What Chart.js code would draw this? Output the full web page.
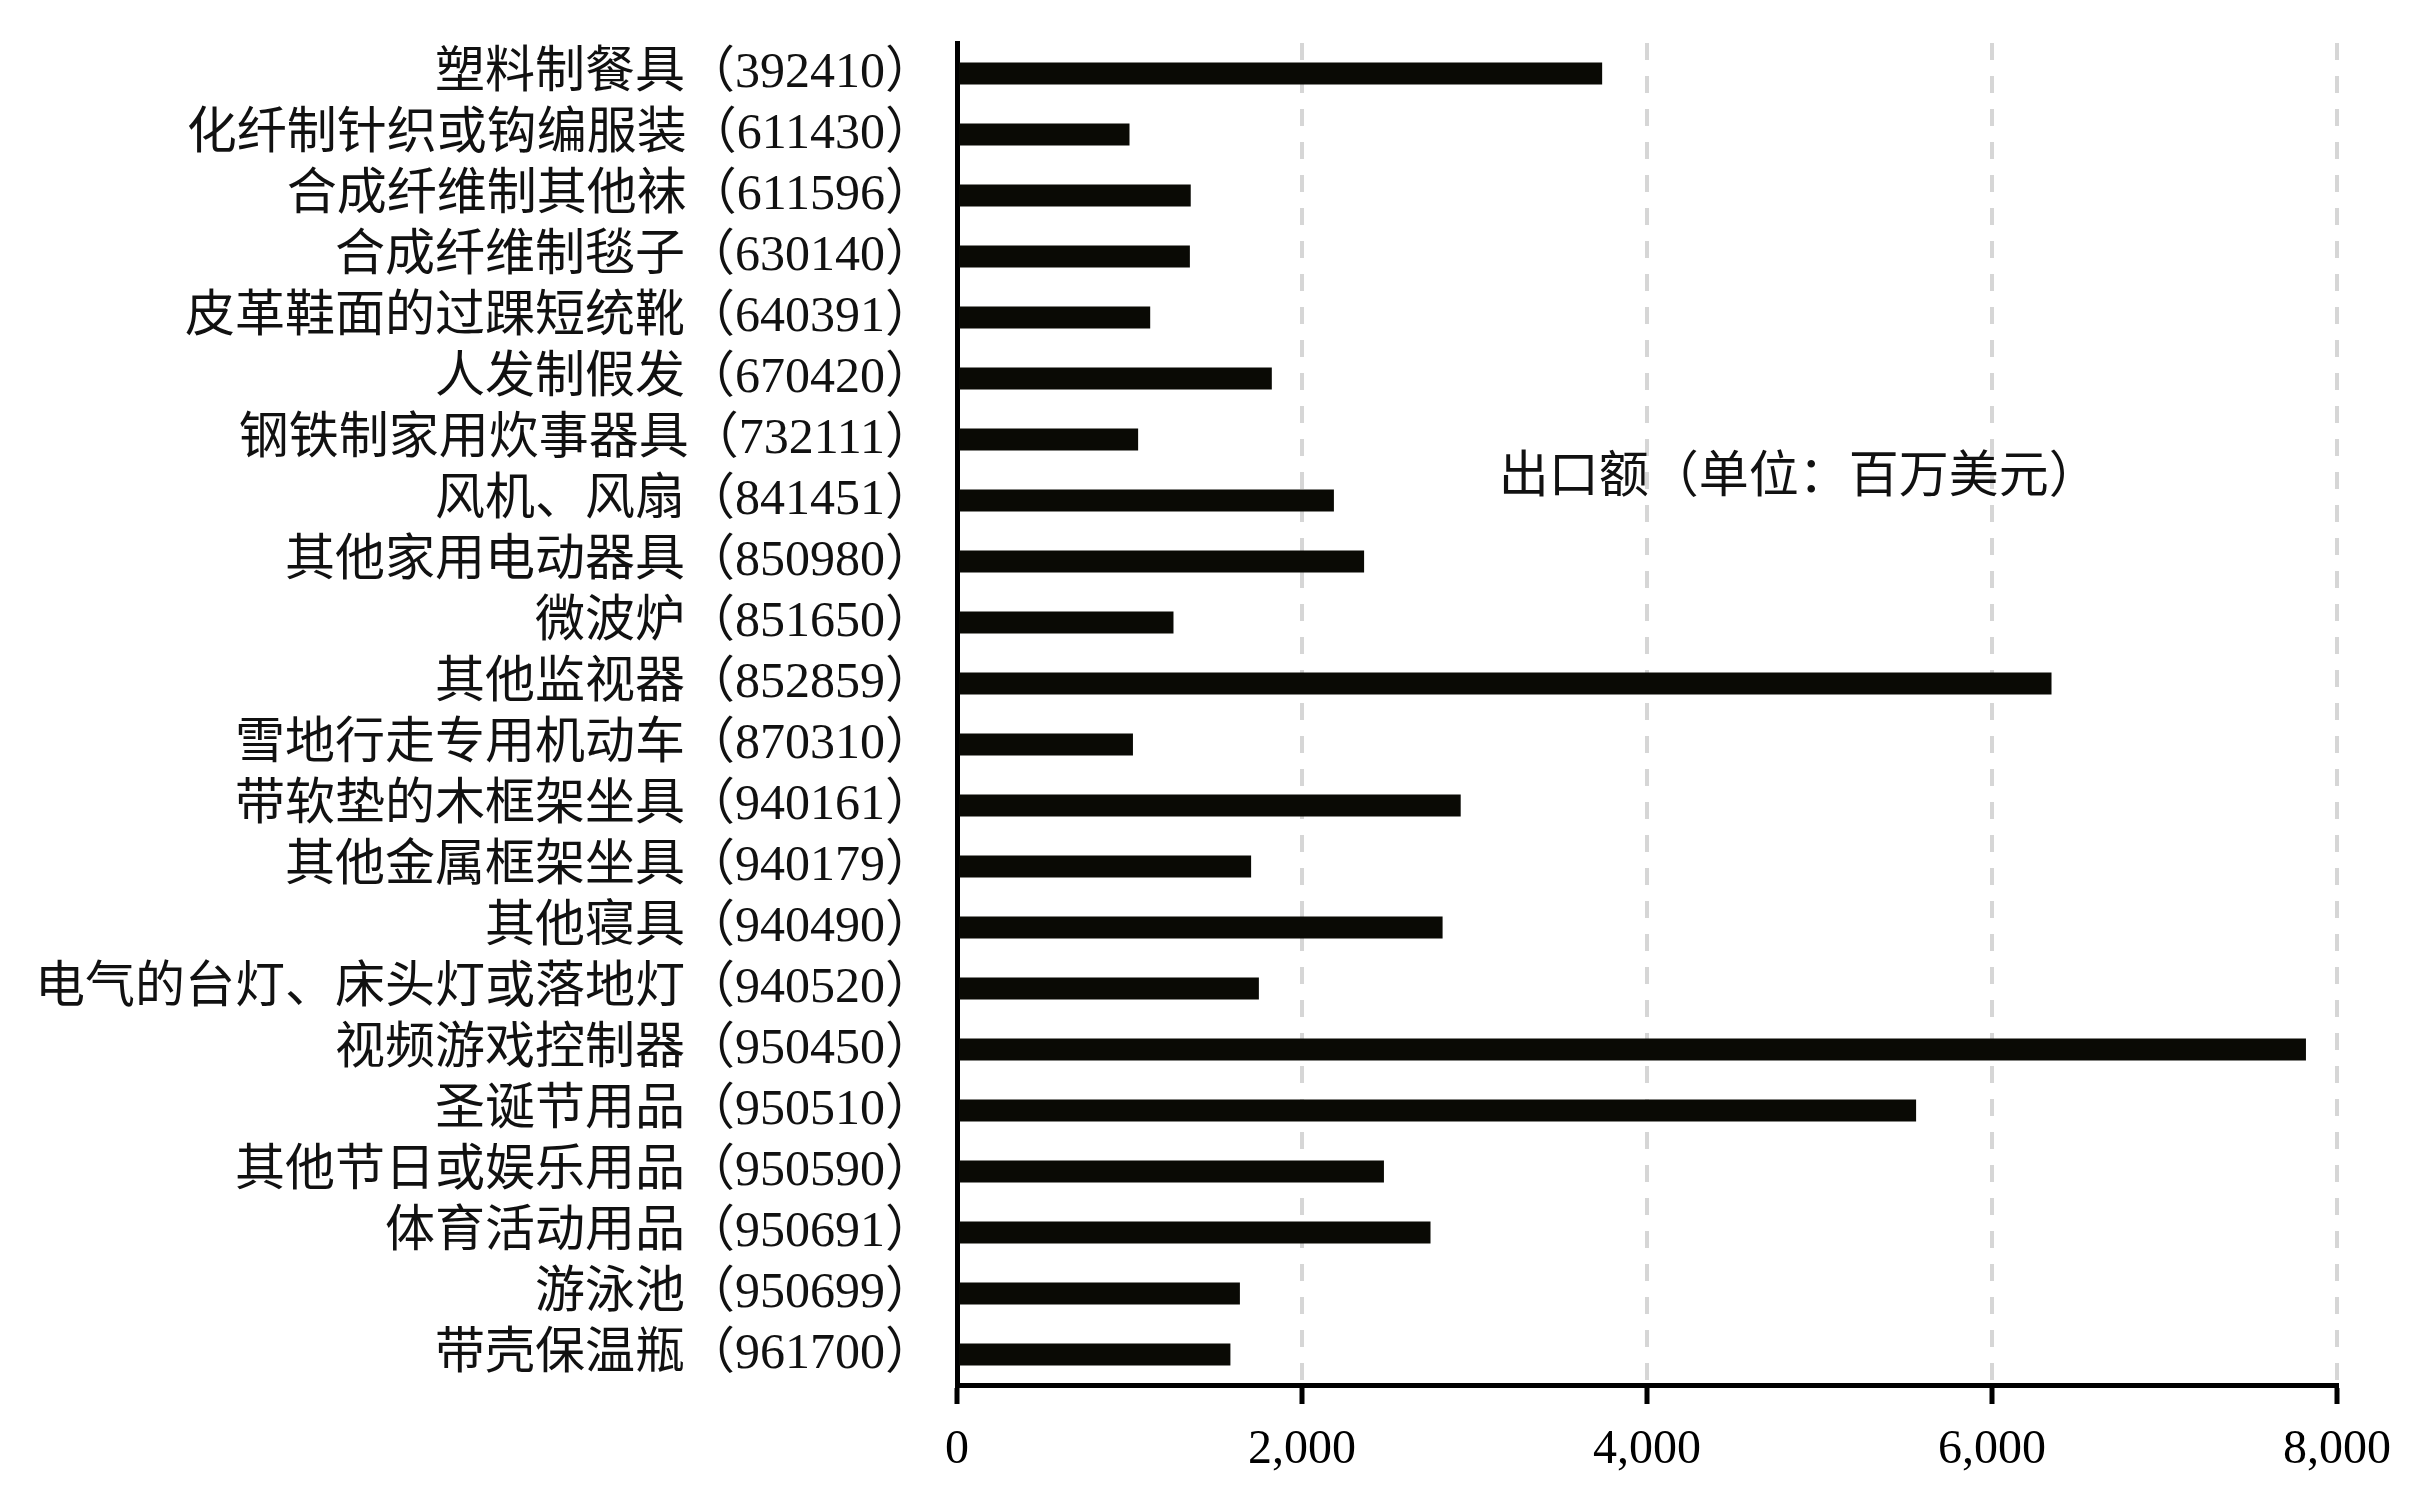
<!DOCTYPE html>
<html>
<head>
<meta charset="utf-8">
<script src="https://cdn.jsdelivr.net/npm/chart.js@4.4.1/dist/chart.umd.min.js"></script>
<style>
html,body{margin:0;padding:0;background:#fff;}
#c{display:block;}
</style>
</head>
<body>
<canvas id="c" width="2425" height="1496"></canvas>
<script>
const names = ["塑料制餐具","化纤制针织或钩编服装","合成纤维制其他袜","合成纤维制毯子","皮革鞋面的过踝短统靴","人发制假发","钢铁制家用炊事器具","风机、风扇","其他家用电动器具","微波炉","其他监视器","雪地行走专用机动车","带软垫的木框架坐具","其他金属框架坐具","其他寝具","电气的台灯、床头灯或落地灯","视频游戏控制器","圣诞节用品","其他节日或娱乐用品","体育活动用品","游泳池","带壳保温瓶"];
const codes = ["392410","611430","611596","630140","640391","670420","732111","841451","850980","851650","852859","870310","940161","940179","940490","940520","950450","950510","950590","950691","950699","961700"];
const exportValues = [3740,1000,1355,1350,1120,1825,1050,2185,2360,1255,6345,1020,2920,1705,2815,1750,7820,5560,2475,2745,1640,1585];
const xTicks = [0,2000,4000,6000,8000];
const annotationText = "出口额（单位：百万美元）";

const labels = names.map((n,i)=> n + "（" + codes[i] + "）");
const FONT = "'Liberation Serif','Noto Sans CJK SC',serif";

const annotPlugin = {
  id:'annot',
  afterDatasetsDraw(chart){
    const ctx = chart.ctx, xs = chart.scales.x, ys = chart.scales.y;
    const x = xs.getPixelForValue(3140);
    const y = (ys.getPixelForValue(6) * 0.35 + ys.getPixelForValue(7) * 0.65);
    ctx.save();
    ctx.font = "50px " + FONT;
    ctx.fillStyle = "#111";
    ctx.textAlign = "left";
    ctx.textBaseline = "middle";
    ctx.fillText(annotationText, x, y);
    ctx.restore();
  }
};

new Chart(document.getElementById('c'), {
  type:'bar',
  data:{
    labels: labels,
    datasets:[{
      data: exportValues,
      backgroundColor:'#0a0a05',
      borderWidth:0,
      barPercentage:0.36,
      categoryPercentage:1.0
    }]
  },
  options:{
    indexAxis:'y',
    responsive:false,
    animation:false,
    devicePixelRatio:1,
    layout:{padding:{top:43,right:88,left:0,bottom:0}},
    plugins:{legend:{display:false},tooltip:{enabled:false}},
    scales:{
      x:{
        min:0,max:8000,
        afterBuildTicks(s){ s.ticks = xTicks.map(v=>({value:v})); },
        afterFit(s){ s.height = 111; s.paddingLeft = 0; s.paddingRight = 0; },
        grid:{
          color:'#d6d6d6',
          lineWidth:4,
          drawTicks:true,
          tickLength:19,
          tickColor:'#000',
          tickWidth:5,
          tickBorderDash:[1,0]
        },
        border:{display:true,color:'#000',width:5,dash:[17,16]},
        ticks:{
          color:'#000',
          padding:18,
          font:{family:FONT,size:48},
          callback:(v)=>Number(v).toLocaleString('en-US')
        }
      },
      y:{
        afterFit(s){ s.width = 957; s.paddingTop = 0; s.paddingBottom = 0; },
        grid:{display:false,drawTicks:false},
        border:{display:true,color:'#000',width:5},
        ticks:{
          color:'#111',
          padding:22,
          autoSkip:false,
          font:{family:FONT,size:50}
        }
      }
    }
  },
  plugins:[annotPlugin]
});
</script>
</body>
</html>
